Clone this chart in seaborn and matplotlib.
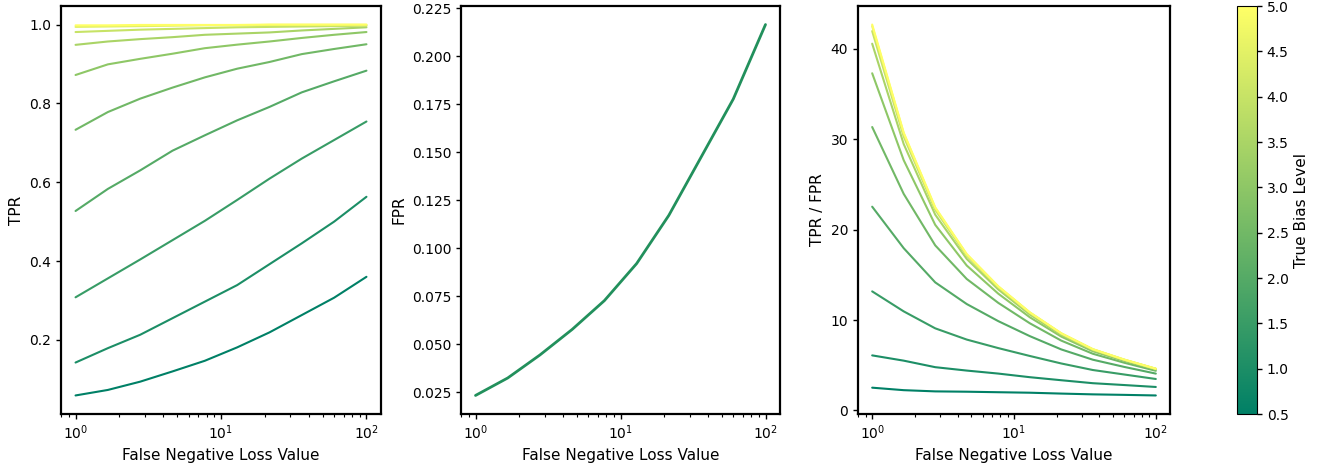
import numpy as np
import pandas as pd
import matplotlib
matplotlib.use("Agg")
import matplotlib.pyplot as plt
import seaborn as sns

# False negative loss values (log spaced, 1 .. 100)
loss_values = [1.0, 1.668, 2.783, 4.642, 7.743, 12.92, 21.54, 35.94, 59.95, 100.0]
bias_levels = [0.5, 1.0, 1.5, 2.0, 2.5, 3.0, 3.5, 4.0, 4.5, 5.0]

# TPR per bias level
tpr_b05 = [0.059, 0.073, 0.094, 0.120, 0.147, 0.181, 0.219, 0.263, 0.307, 0.360]
tpr_b10 = [0.1425, 0.179, 0.213, 0.255, 0.297, 0.339, 0.392, 0.445, 0.500, 0.563]
tpr_b15 = [0.308, 0.356, 0.404, 0.453, 0.502, 0.555, 0.609, 0.660, 0.707, 0.754]
tpr_b20 = [0.527, 0.583, 0.630, 0.680, 0.719, 0.757, 0.791, 0.828, 0.856, 0.883]
tpr_b25 = [0.733, 0.778, 0.812, 0.840, 0.866, 0.888, 0.905, 0.925, 0.938, 0.950]
tpr_b30 = [0.872, 0.899, 0.913, 0.926, 0.940, 0.949, 0.957, 0.966, 0.974, 0.981]
tpr_b35 = [0.9485, 0.957, 0.963, 0.968, 0.974, 0.977, 0.980, 0.985, 0.989, 0.993]
tpr_b40 = [0.981, 0.984, 0.987, 0.989, 0.991, 0.993, 0.994, 0.995, 0.996, 0.997]
tpr_b45 = [0.994, 0.995, 0.996, 0.997, 0.998, 0.998, 0.999, 0.999, 0.999, 0.999]
tpr_b50 = [0.998, 0.998, 0.999, 0.999, 0.999, 0.999, 1.000, 1.000, 1.000, 1.000]

# FPR is the same for every bias level
fpr = [0.0234, 0.0325, 0.0445, 0.0578, 0.0728, 0.0921, 0.1172, 0.1475, 0.1778, 0.2166]

tpr_all = [tpr_b05, tpr_b10, tpr_b15, tpr_b20, tpr_b25,
           tpr_b30, tpr_b35, tpr_b40, tpr_b45, tpr_b50]

rows = []
for b, tpr in zip(bias_levels, tpr_all):
    for x, t, f in zip(loss_values, tpr, fpr):
        rows.append({"loss": x, "bias": b, "TPR": t, "FPR": f, "ratio": t / f})
df = pd.DataFrame(rows)

sns.set_style("white")
plt.rcParams["font.family"] = ["DejaVu Sans"]
plt.rcParams["text.color"] = "black"
plt.rcParams["axes.labelcolor"] = "black"
plt.rcParams["xtick.color"] = "black"
plt.rcParams["ytick.color"] = "black"

fig = plt.figure(figsize=(13.37, 4.65), dpi=100)
W, H = 1337, 465
def ax_at(l, t, r, b):
    return fig.add_axes([l / W, 1 - b / H, (r - l) / W, (b - t) / H])

ax1 = ax_at(61, 6, 381, 414)
ax2 = ax_at(461, 6, 780, 414)
ax3 = ax_at(858, 6, 1170, 414)
cax = ax_at(1237, 6, 1257, 414)

norm = plt.Normalize(0.5, 5.0)
cmap = plt.get_cmap("summer")

sns.lineplot(data=df, x="loss", y="TPR", hue="bias", palette=cmap, hue_norm=norm,
             legend=False, ax=ax1, linewidth=1.5)
sns.lineplot(x=loss_values, y=fpr, color="#22905c", ax=ax2, linewidth=2.0)
sns.lineplot(data=df, x="loss", y="ratio", hue="bias", palette=cmap, hue_norm=norm,
             legend=False, ax=ax3, linewidth=1.5)

for ax, lab in [(ax1, "TPR"), (ax2, "FPR"), (ax3, "TPR / FPR")]:
    ax.set_xscale("log")
    ax.set_xlabel("False Negative Loss Value", fontsize=11)
    ax.set_ylabel(lab, fontsize=11)
    ax.tick_params(axis="both", which="major", direction="out", length=3.5, width=1, labelsize=10,
                   bottom=True, left=True, colors="black")
    ax.tick_params(axis="x", which="minor", direction="out", length=2, width=0.8, bottom=True,
                   colors="black")
    for s in ax.spines.values():
        s.set_linewidth(1.6)
        s.set_color("black")

ax2.set_yticks([0.025, 0.05, 0.075, 0.1, 0.125, 0.15, 0.175, 0.2, 0.225])

sm = plt.cm.ScalarMappable(norm=norm, cmap=cmap)
cb = fig.colorbar(sm, cax=cax)
cb.set_label("True Bias Level", fontsize=11, color="black")
cb.set_ticks([0.5, 1.0, 1.5, 2.0, 2.5, 3.0, 3.5, 4.0, 4.5, 5.0])
cb.ax.tick_params(labelsize=10, length=3.5, width=1, colors="black")
cb.outline.set_linewidth(0.8)
cb.outline.set_edgecolor("black")

fig.savefig("out.png", dpi=100)
